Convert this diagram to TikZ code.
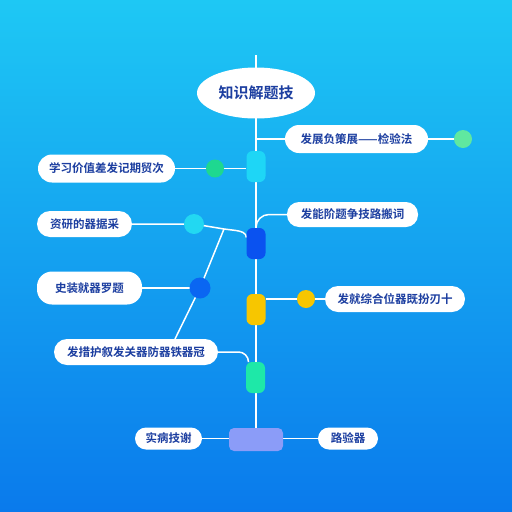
\documentclass[tikz,border=0pt]{standalone}
\usepackage{fontspec}
\newfontfamily\cjk{Noto Sans CJK SC}[BoldFont={* Bold}]
\usetikzlibrary{shapes.geometric}
\pgfdeclarelayer{bg}
\pgfsetlayers{bg,main}
\definecolor{bgtop}{RGB}{30,200,244}
\definecolor{bgbot}{RGB}{10,122,236}
\definecolor{txt}{RGB}{28,62,160}
\definecolor{ncyan}{RGB}{30,214,246}
\definecolor{nblue}{RGB}{10,82,240}
\definecolor{nyellow}{RGB}{247,198,0}
\definecolor{nteal}{RGB}{30,232,168}
\definecolor{nperi}{RGB}{139,156,248}
\definecolor{cgreenl}{RGB}{96,232,160}
\definecolor{cgreen}{RGB}{30,216,144}
\definecolor{ccyan}{RGB}{34,216,242}
\definecolor{cblue}{RGB}{10,102,242}
\begin{document}
\begin{tikzpicture}[x=1pt,y=-1pt,
  pill/.style={draw=none,fill=white,rounded corners=12pt,inner sep=0pt,
    font=\cjk\bfseries\fontsize{11.5}{12}\selectfont,text=txt},
  stepnode/.style={draw=none,rounded corners=6pt,minimum width=19pt,minimum height=31pt,inner sep=0pt},
  dot/.style={circle,draw=none,inner sep=0pt},
  wire/.style={white,line width=1.5pt}]
\useasboundingbox (0,0) rectangle (512,512);
% nodes
\coordinate (top) at (256,55);
\node[ellipse,fill=white,minimum width=118pt,minimum height=51pt,inner sep=0pt,
  font=\cjk\bfseries\fontsize{15}{16}\selectfont,text=txt] (title) at (256,93) {知识解题技};
\node[stepnode,fill=ncyan] (n1) at (256,166.5) {};
\node[stepnode,fill=nblue] (n2) at (256,243.5) {};
\node[stepnode,fill=nyellow] (n3) at (256,309.5) {};
\node[stepnode,fill=nteal] (n4) at (255.5,377.5) {};
\node[draw=none,fill=nperi,rounded corners=5pt,minimum width=54pt,minimum height=23pt,inner sep=0pt] (bot) at (256,439.5) {};
% labels
\node[pill,minimum width=143pt,minimum height=28pt,rounded corners=14pt] (tr) at (356.5,139) {发展负策展——检验法};
\node[pill,minimum width=137pt,minimum height=28pt,rounded corners=14pt] (lu) at (106.5,168.5) {学习价值差发记期贸次};
\node[pill,minimum width=95pt,minimum height=26pt,rounded corners=13pt] (l2) at (84.5,224) {资研的器据采};
\node[pill,minimum width=131pt,minimum height=25pt] (r2) at (352.5,214.5) {发能阶题争技路搬词};
\node[pill,minimum width=105pt,minimum height=33pt,rounded corners=15pt] (l3) at (89.5,288) {史装就器罗题};
\node[pill,minimum width=140pt,minimum height=26pt,rounded corners=13pt] (r3) at (395,299) {发就综合位器既扮刃十};
\node[pill,minimum width=164pt,minimum height=26pt,rounded corners=13pt] (ll) at (136,352) {发措护叙发关器防器铁器冠};
\node[pill,minimum width=67pt,minimum height=22pt,rounded corners=11pt] (bl) at (168.5,438.5) {实病技谢};
\node[pill,minimum width=60pt,minimum height=22pt,rounded corners=11pt] (br) at (348,438.5) {路验器};
% dots
\node[dot,fill=cgreenl,minimum size=18pt] (d1) at (463,139) {};
\node[dot,fill=cgreen,minimum size=18pt] (d2) at (215,168.5) {};
\node[dot,fill=ccyan,minimum size=20pt] (d3) at (194,224) {};
\node[dot,fill=cblue,minimum size=21pt] (d4) at (200,288) {};
\node[dot,fill=nyellow,minimum size=18pt] (d5) at (306,299) {};
\coordinate (fork) at (224,229);
\coordinate (llt) at (175,339);
\coordinate (m1) at (256,139);
% background and wires
\begin{pgfonlayer}{bg}
\shade[top color=bgtop,bottom color=bgbot] (0,0) rectangle (512,512);
\draw[wire] (top) -- (bot.north);
\draw[wire] (m1) -- (tr.west);
\draw[wire] (tr.east) -- (d1.center);
\draw[wire] (lu.east) -- (d2.center) -- (d2 -| n1.west);
\draw[wire] (l2.east) -- (d3.center) -- (fork) -- (232,230)
  .. controls (242,231) and (246.5,233) .. ([yshift=6pt]n2.west);
\draw[wire] (fork) -- (d4.center) -- (llt);
\draw[wire] (l3.east) -- (d4.center);
\draw[wire,rounded corners=13pt] (n2.north) |- (r2.west);
\draw[wire] (n3.east |- d5) -- (d5.center) -- (r3.west);
\draw[wire,rounded corners=10pt] (ll.east) -| ([xshift=-7pt]n4.north);
\draw[wire] (bl.east) -- (bl.east -| bot.west);
\draw[wire] (br.west -| bot.east) -- (br.west);
\end{pgfonlayer}
\end{tikzpicture}
\end{document}
